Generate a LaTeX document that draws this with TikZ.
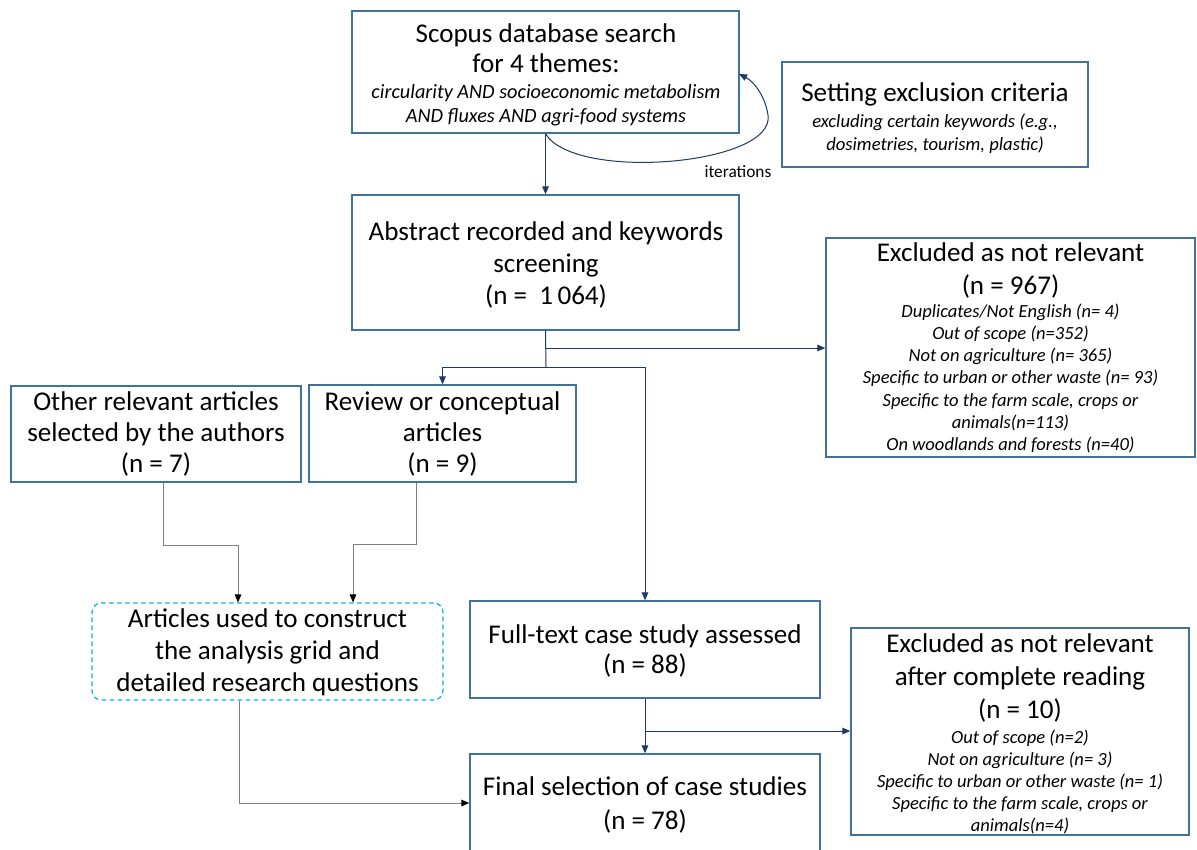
\documentclass[tikz,border=0pt]{standalone}
\usepackage{fontspec}
\setmainfont{Carlito}
\usetikzlibrary{arrows.meta,fit}
\definecolor{boxc}{HTML}{41719C}
\definecolor{navy}{HTML}{203864}
\definecolor{grayl}{HTML}{7F7F7F}
\definecolor{cyanl}{HTML}{00B0F0}
\begin{document}
\begin{tikzpicture}[x=0.75pt,y=-0.75pt,
  box/.style={draw=boxc, line width=1.1pt, inner sep=0pt, rectangle},
  dbox/.style={draw=cyanl, line width=0.9pt, dash pattern=on 3.5pt off 2.5pt, rounded corners=7pt, inner sep=0pt, rectangle},
  big/.style={font=\fontsize{20.3}{#1}\selectfont, align=center, inner sep=0pt},
  big/.default=24,
  ital/.style 2 args={font=\fontsize{#1}{#2}\selectfont\itshape, align=center, inner sep=0pt},
  bl/.style={draw=navy, line width=0.75pt},
  bla/.style={bl, -{Triangle[length=6pt,width=5pt]}},
  gl/.style={draw=grayl, line width=0.75pt},
  gla/.style={gl, -{Triangle[length=6pt,width=5pt,color=black]}}
]
\fill[white] (0,0) rectangle (1197,850);
\clip (0,0) rectangle (1197,850);

% boxes
\node[box, fit={(352,11) (739,133)}] (scopus) {};
\node[box, fit={(782,62) (1088,167)}] (setting) {};
\node[box, fit={(352,195) (739,330)}] (abs) {};
\node[box, fit={(826,238) (1195,457)}] (exc1) {};
\node[box, fit={(11,386) (301,482)}] (other) {};
\node[box, fit={(309,385) (576,482)}] (review) {};
\node[dbox, fit={(92,603) (443,700)}] (grid) {};
\node[box, fit={(470,601) (820,698)}] (full) {};
\node[box, fit={(470,754) (820,852)}] (final) {};
\node[box, fit={(851,628) (1189,835)}] (exc2) {};

% texts
\node[big=22.5] (scopusT) at (546,48) {Scopus database search\\for 4 themes:};
\node[ital={15.2}{18}] (scopusI) at (546,105) {circularity AND socioeconomic metabolism\\AND fluxes AND agri-food systems};
\node[big] (settingT) at (935,94) {Setting exclusion criteria};
\node[ital={14}{17}] (settingI) at (935,134) {excluding certain keywords (e.g.,\\dosimetries, tourism, plastic)};
\node[big] (absT) at (546,265) {Abstract recorded and keywords\\screening\\(n =\ \ 1\,064)};
\node[big=24.75] (exc1T) at (1010.5,270.5) {Excluded as not relevant\\(n = 967)};
\node[ital={13.9}{16.6}] (exc1I) at (1010.5,378.5) {Duplicates/Not English (n= 4)\\Out of scope (n=352)\\Not on agriculture (n= 365)\\Specific to urban or other waste (n= 93)\\Specific to the farm scale, crops or\\animals(n=113)\\On woodlands and forests (n=40)};
\node[big=23.25] (otherT) at (156,434) {Other relevant articles\\selected by the authors\\(n = 7)};
\node[big=23.25] (reviewT) at (442.5,434) {Review or conceptual\\articles\\(n = 9)};
\node[big] (gridT) at (267.5,652) {Articles used to construct\\the analysis grid and\\detailed research questions};
\node[big=22.5] (fullT) at (645,651) {Full-text case study assessed\\(n = 88)};
\node[big=25.5] (finalT) at (645,805) {Final selection of case studies\\(n = 78)};
\node[big=24.5] (exc2T) at (1020,678) {Excluded as not relevant\\after complete reading\\(n = 10)};
\node[ital={13.9}{16.5}] (exc2I) at (1020,781.5) {Out of scope (n=2)\\Not on agriculture (n= 3)\\Specific to urban or other waste (n= 1)\\Specific to the farm scale, crops or\\animals(n=4)};
\node[font=\fontsize{13}{15}\selectfont, inner sep=0pt] (iter) at (738,172) {iterations};

% connectors
\draw[bla] (scopus.south) -- (abs.north);
\draw[bla] (scopus.south) .. controls (575,182) and (776,165) .. (768,115) .. controls (765,95) and (753,81) .. (739,74);
\coordinate (j1) at (546,348);
\coordinate (j2) at (546,367);
\coordinate (xf) at (645,0);
\draw[bl] (abs.south) -- (j2);
\draw[bla] (j1) -- (j1 -| exc1.west);
\draw[bl] (j2 -| review.north) -- (j2 -| xf);
\draw[bla] (j2 -| review.north) -- (review.north);
\draw[bla] (j2 -| xf) -- (full.north);

\coordinate (xo) at (163,0);
\coordinate (xo2) at (238,0);
\coordinate (yo) at (0,545);
\draw[gla] (other.south -| xo) -- (xo |- yo) -- (xo2 |- yo) -- (grid.north -| xo2);
\coordinate (xr) at (416,0);
\coordinate (xr2) at (353,0);
\coordinate (yr) at (0,544);
\draw[gla] (review.south -| xr) -- (xr |- yr) -- (xr2 |- yr) -- (grid.north -| xr2);
\coordinate (xg) at (239,0);
\coordinate (yg) at (0,803);
\draw[gla] (grid.south -| xg) -- (xg |- yg) -- (yg -| final.west);

\draw[bla] (full.south) -- (final.north);
\coordinate (j3) at (645,731);
\draw[bla] (j3) -- (j3 -| exc2.west);
\end{tikzpicture}
\end{document}
